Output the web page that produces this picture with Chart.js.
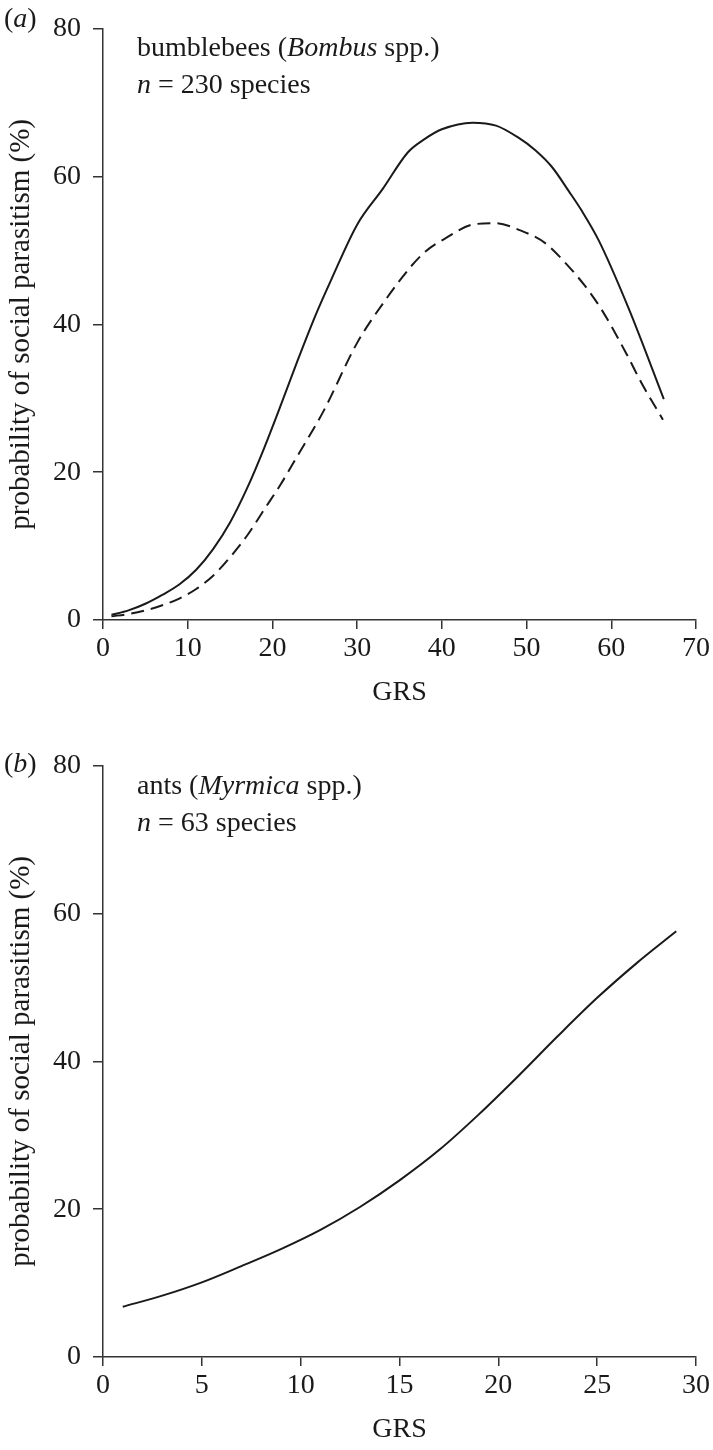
<!DOCTYPE html>
<html>
<head>
<meta charset="utf-8">
<script src="https://cdn.jsdelivr.net/npm/chart.js@4.4.1/dist/chart.umd.min.js"></script>
<style>
  html, body { margin: 0; padding: 0; background: #fff; width: 713px; height: 1450px; overflow: hidden; }
  .wrap { position: absolute; left: 0; width: 713px; height: 713px; }
  .txt { position: absolute; font-family: "Liberation Serif", "Times New Roman", serif; font-size: 28px; color: #1a1a1a; white-space: nowrap; line-height: 37px; }
</style>
</head>
<body>
<div class="wrap" style="top:0"><canvas id="ca" width="713" height="713"></canvas></div>
<div class="wrap" style="top:737px"><canvas id="cb" width="713" height="713"></canvas></div>
<div class="txt" style="left:4px; top:-1px;">(<i>a</i>)</div>
<div class="txt" style="left:137px; top:28px;">bumblebees (<i>Bombus</i> spp.)<br><i>n</i> = 230 species</div>
<div class="txt" style="left:4px; top:744px;">(<i>b</i>)</div>
<div class="txt" style="left:137px; top:766px;">ants (<i>Myrmica</i> spp.)<br><i>n</i> = 63 species</div>
<script>
// ---- Data ----
// Panel (a): bumblebees, solid line
const bumbleSolidGRS = [1,3,5,7,9,11,13,15,17,19,21,23,25,27,30,33,36,38,40,43.6,46.4,49,51,53,55,56.5,58.5,62,66.2];
const bumbleSolidProb = [0.7,1.3,2.2,3.4,4.8,6.8,9.6,13.2,17.8,23.2,29.1,35.2,41.0,46.2,53.5,58.3,63.3,65.1,66.4,67.3,66.9,65.3,63.6,61.3,58.0,55.4,51.4,42.3,29.9];
// Panel (a): bumblebees, dashed line
const bumbleDashedGRS = [1,3,5,7,9,11,13,15,17,19,21,23,26,30,33.4,36.4,38.1,40.5,43.6,46.4,49.1,52.2,54.6,56.9,58.8,61.8,63.6,66.1];
const bumbleDashedProb = [0.5,0.8,1.3,2.0,2.9,4.2,6.0,8.5,11.4,14.9,18.4,22.3,28.2,37.5,43.4,47.9,49.9,51.7,53.5,53.7,52.8,51.0,48.3,45.2,42.1,36.0,32.0,27.1];
// Panel (b): ants, solid line
const antGRS = [1,3,5,7,9,11,13,15,17,19,21,23,25,27,29];
const antProb = [6.8,8.3,10.1,12.3,14.6,17.2,20.3,23.9,28.0,32.8,38.0,43.4,48.6,53.3,57.6];
// Axis ranges / ticks
const yTicksMax = 80, yStep = 20;
const xMaxA = 70, xStepA = 10;
const xMaxB = 30, xStepB = 5;
const yTitle = 'probability of social parasitism (%)';
const xTitle = 'GRS';

const pts = (xs, ys) => xs.map((x, i) => ({x, y: ys[i]}));
const FAM = '"Liberation Serif", "Times New Roman", serif';
const TICKFONT = { family: FAM, size: 28 };
const XTITLEFONT = { family: FAM, size: 28 };
const YTITLEFONT = { family: FAM, size: 29 };
const INK = '#1a1a1a';
const AX = '#333';

function makeOptions(xMax, xStep) {
  return {
    responsive: false,
    animation: false,
    layout: { padding: { top: 24, right: 15, left: 0, bottom: 0 } },
    plugins: { legend: { display: false }, tooltip: { enabled: false } },
    elements: { point: { radius: 0 } },
    scales: {
      x: {
        type: 'linear', min: 0, max: xMax,
        ticks: { stepSize: xStep, color: INK, font: TICKFONT, padding: 3, maxRotation: 0 },
        grid: { drawOnChartArea: false, drawTicks: true, tickLength: 9, color: AX, lineWidth: 1.5 },
        border: { display: true, color: AX, width: 1.5 },
        title: { display: true, text: xTitle, color: INK, font: XTITLEFONT, padding: { top: 0, bottom: 4 } },
        afterFit: s => { s.height = 93; }
      },
      y: {
        type: 'linear', min: 0, max: yTicksMax,
        ticks: { stepSize: yStep, color: INK, font: TICKFONT, padding: 12 },
        grid: { drawOnChartArea: false, drawTicks: true, tickLength: 10, color: AX, lineWidth: 1.5 },
        border: { display: true, color: AX, width: 1.5 },
        title: { display: true, text: yTitle, color: INK, font: YTITLEFONT, padding: { top: 4, bottom: 0 } },
        afterFit: s => { s.width = 103; }
      }
    }
  };
}

new Chart(document.getElementById('ca'), {
  type: 'line',
  data: {
    datasets: [
      { data: pts(bumbleSolidGRS, bumbleSolidProb), borderColor: INK, borderWidth: 2, fill: false, tension: 0.3, cubicInterpolationMode: 'monotone' },
      { data: pts(bumbleDashedGRS, bumbleDashedProb), borderColor: INK, borderWidth: 2, borderDash: [13, 7], fill: false, tension: 0.3, cubicInterpolationMode: 'monotone' }
    ]
  },
  options: makeOptions(xMaxA, xStepA)
});

new Chart(document.getElementById('cb'), {
  type: 'line',
  data: {
    datasets: [
      { data: pts(antGRS, antProb), borderColor: INK, borderWidth: 2, fill: false, tension: 0.3, cubicInterpolationMode: 'monotone' }
    ]
  },
  options: makeOptions(xMaxB, xStepB)
});
</script>
</body>
</html>
